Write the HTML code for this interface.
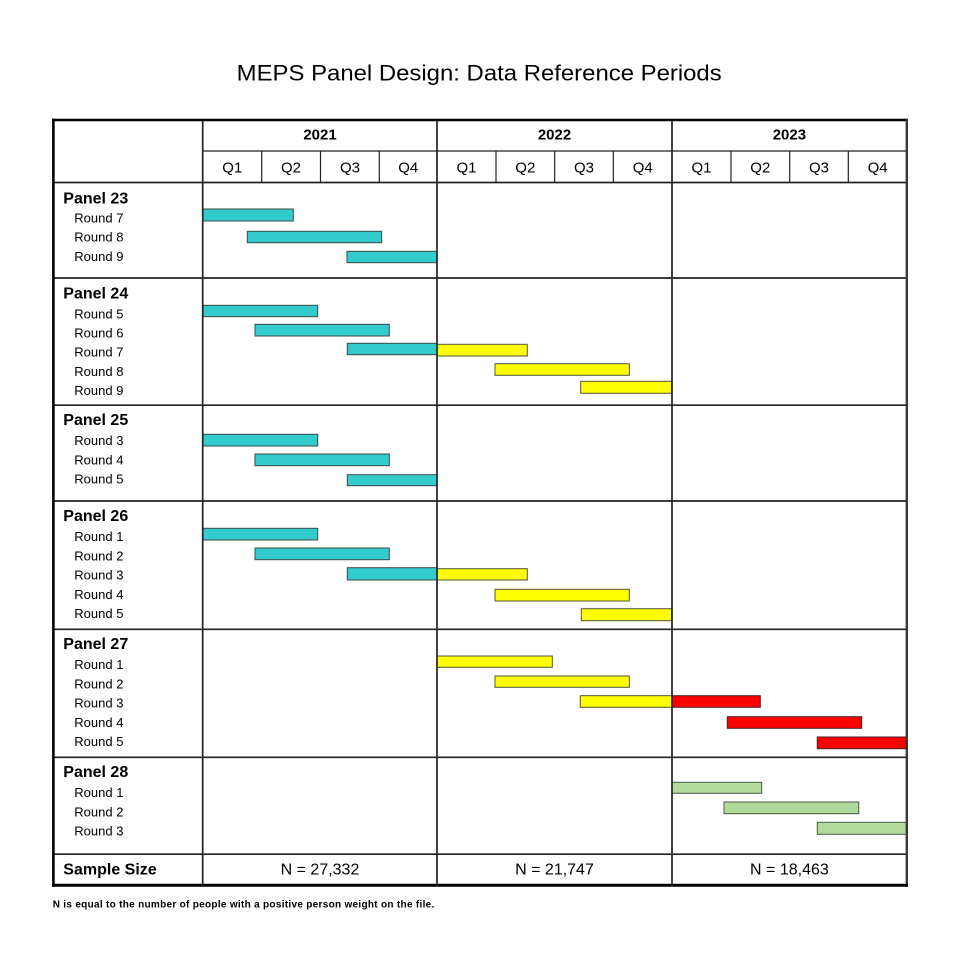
<!DOCTYPE html>
<html><head><meta charset="utf-8"><style>
html,body{margin:0;padding:0;background:#fff;}
svg{display:block;}
text{font-family:"Liberation Sans",Arial,sans-serif;fill:#000;}
.b{font-weight:bold;}
</style></head><body>
<svg width="960" height="960" viewBox="0 0 960 960" xmlns="http://www.w3.org/2000/svg">
<rect x="0" y="0" width="960" height="960" fill="#fff"/>
<text x="479.2" y="80.7" font-size="22" text-anchor="middle" textLength="485" lengthAdjust="spacingAndGlyphs">MEPS Panel Design: Data Reference Periods</text>

<!-- bars -->
<g stroke="#3c4a4a" stroke-width="1">
<!-- cyan -->
<g fill="#33CCCC">
<rect x="203" y="209" width="90.3" height="12"/>
<rect x="247.3" y="231.3" width="134.4" height="11.4"/>
<rect x="347" y="251.3" width="90" height="11.4"/>
<rect x="203" y="305.3" width="114.7" height="11.4"/>
<rect x="255" y="324.3" width="134.3" height="11.7"/>
<rect x="347.3" y="343.3" width="89.7" height="11.4"/>
<rect x="203" y="434.3" width="114.7" height="11.7"/>
<rect x="255" y="454" width="134.3" height="11.7"/>
<rect x="347.3" y="474.7" width="89.7" height="11"/>
<rect x="203" y="528.3" width="114.7" height="11.7"/>
<rect x="255" y="548" width="134.3" height="11.7"/>
<rect x="347.3" y="567.7" width="89.7" height="12.3"/>
</g>
<!-- yellow -->
<g fill="#FFFF00" stroke="#55553a">
<rect x="437" y="344.3" width="90.3" height="11.7"/>
<rect x="495" y="363.7" width="134.3" height="11.6"/>
<rect x="580.7" y="381.3" width="90.8" height="12"/>
<rect x="437" y="568.7" width="90.3" height="11.3"/>
<rect x="495" y="589.3" width="134.3" height="11.7"/>
<rect x="581.3" y="608.7" width="90.2" height="12"/>
<rect x="437" y="656" width="115.3" height="11.3"/>
<rect x="495" y="676" width="134.3" height="11.3"/>
<rect x="580.3" y="695.7" width="91.7" height="11.6"/>
</g>
<!-- red -->
<g fill="#FF0000" stroke="#4a2020">
<rect x="672" y="695.7" width="88.3" height="11.6"/>
<rect x="727.3" y="716.7" width="134.4" height="11.6"/>
<rect x="817.3" y="737" width="89.4" height="11.7"/>
</g>
<!-- green -->
<g fill="#B3DA9D" stroke="#4a5a44">
<rect x="672" y="782.3" width="89.7" height="11"/>
<rect x="724" y="802" width="134.7" height="11.7"/>
<rect x="817.3" y="822.3" width="89.4" height="12"/>
</g>
</g>

<!-- grid lines -->
<g stroke="#222" fill="none">
<line x1="202.7" y1="151" x2="907" y2="151" stroke-width="1.3"/>
<line x1="53" y1="182.5" x2="907" y2="182.5" stroke-width="1.7"/>
<g stroke-width="1.2">
<line x1="261.7" y1="151" x2="261.7" y2="182.5"/>
<line x1="320.5" y1="151" x2="320.5" y2="182.5"/>
<line x1="379.3" y1="151" x2="379.3" y2="182.5"/>
<line x1="496" y1="151" x2="496" y2="182.5"/>
<line x1="554.7" y1="151" x2="554.7" y2="182.5"/>
<line x1="613.3" y1="151" x2="613.3" y2="182.5"/>
<line x1="731" y1="151" x2="731" y2="182.5"/>
<line x1="789.7" y1="151" x2="789.7" y2="182.5"/>
<line x1="848.3" y1="151" x2="848.3" y2="182.5"/>
</g>
<g stroke-width="1.7">
<line x1="53" y1="278" x2="907" y2="278"/>
<line x1="53" y1="405.2" x2="907" y2="405.2"/>
<line x1="53" y1="501" x2="907" y2="501"/>
<line x1="53" y1="629.3" x2="907" y2="629.3"/>
<line x1="53" y1="757.3" x2="907" y2="757.3"/>
<line x1="53" y1="854.2" x2="907" y2="854.2"/>
<line x1="202.7" y1="120" x2="202.7" y2="885"/>
<line x1="437" y1="120" x2="437" y2="885"/>
<line x1="672" y1="120" x2="672" y2="885"/>
</g>
<line x1="53.4" y1="118.8" x2="53.4" y2="886.7" stroke="#000" stroke-width="2.6"/>
<line x1="52" y1="120" x2="908" y2="120" stroke="#000" stroke-width="2.5"/>
<line x1="906.8" y1="118.8" x2="906.8" y2="886.7" stroke="#333" stroke-width="2.3"/>
<line x1="52" y1="885.2" x2="908" y2="885.2" stroke="#000" stroke-width="3"/>
</g>

<!-- header text -->
<g font-size="15" text-anchor="middle">
<text class="b" x="320" y="139.3">2021</text>
<text class="b" x="554.5" y="139.3">2022</text>
<text class="b" x="789.4" y="139.3">2023</text>
<text x="232.3" y="172.3">Q1</text>
<text x="291" y="172.3">Q2</text>
<text x="350" y="172.3">Q3</text>
<text x="408.2" y="172.3">Q4</text>
<text x="466.5" y="172.3">Q1</text>
<text x="525.3" y="172.3">Q2</text>
<text x="584" y="172.3">Q3</text>
<text x="642.7" y="172.3">Q4</text>
<text x="701.5" y="172.3">Q1</text>
<text x="760.3" y="172.3">Q2</text>
<text x="819" y="172.3">Q3</text>
<text x="877.6" y="172.3">Q4</text>
</g>

<!-- row labels -->
<g font-size="16" class="b">
<text class="b" x="63.3" y="203.3">Panel 23</text>
<text class="b" x="63.3" y="298.3">Panel 24</text>
<text class="b" x="63.3" y="425">Panel 25</text>
<text class="b" x="63.3" y="521">Panel 26</text>
<text class="b" x="63.3" y="649">Panel 27</text>
<text class="b" x="63.3" y="777">Panel 28</text>
<text class="b" x="63.3" y="874.3">Sample Size</text>
</g>
<g font-size="13">
<text x="74.3" y="222.3">Round 7</text>
<text x="74.3" y="241.7">Round 8</text>
<text x="74.3" y="261">Round 9</text>
<text x="74.3" y="318.3">Round 5</text>
<text x="74.3" y="337.7">Round 6</text>
<text x="74.3" y="356.7">Round 7</text>
<text x="74.3" y="376">Round 8</text>
<text x="74.3" y="395">Round 9</text>
<text x="74.3" y="445">Round 3</text>
<text x="74.3" y="464.3">Round 4</text>
<text x="74.3" y="483.3">Round 5</text>
<text x="74.3" y="541">Round 1</text>
<text x="74.3" y="560.3">Round 2</text>
<text x="74.3" y="579.5">Round 3</text>
<text x="74.3" y="598.8">Round 4</text>
<text x="74.3" y="618">Round 5</text>
<text x="74.3" y="669">Round 1</text>
<text x="74.3" y="688.3">Round 2</text>
<text x="74.3" y="707.5">Round 3</text>
<text x="74.3" y="726.8">Round 4</text>
<text x="74.3" y="746">Round 5</text>
<text x="74.3" y="797">Round 1</text>
<text x="74.3" y="816.3">Round 2</text>
<text x="74.3" y="835.5">Round 3</text>
</g>

<g font-size="16" text-anchor="middle">
<text x="320" y="874.3">N = 27,332</text>
<text x="554.5" y="874.3">N = 21,747</text>
<text x="789.4" y="874.3">N = 18,463</text>
</g>

<text class="b" x="52.7" y="907.5" font-size="10" textLength="381.6" lengthAdjust="spacing">N is equal to the number of people with a positive person weight on the file.</text>
</svg>
</body></html>
